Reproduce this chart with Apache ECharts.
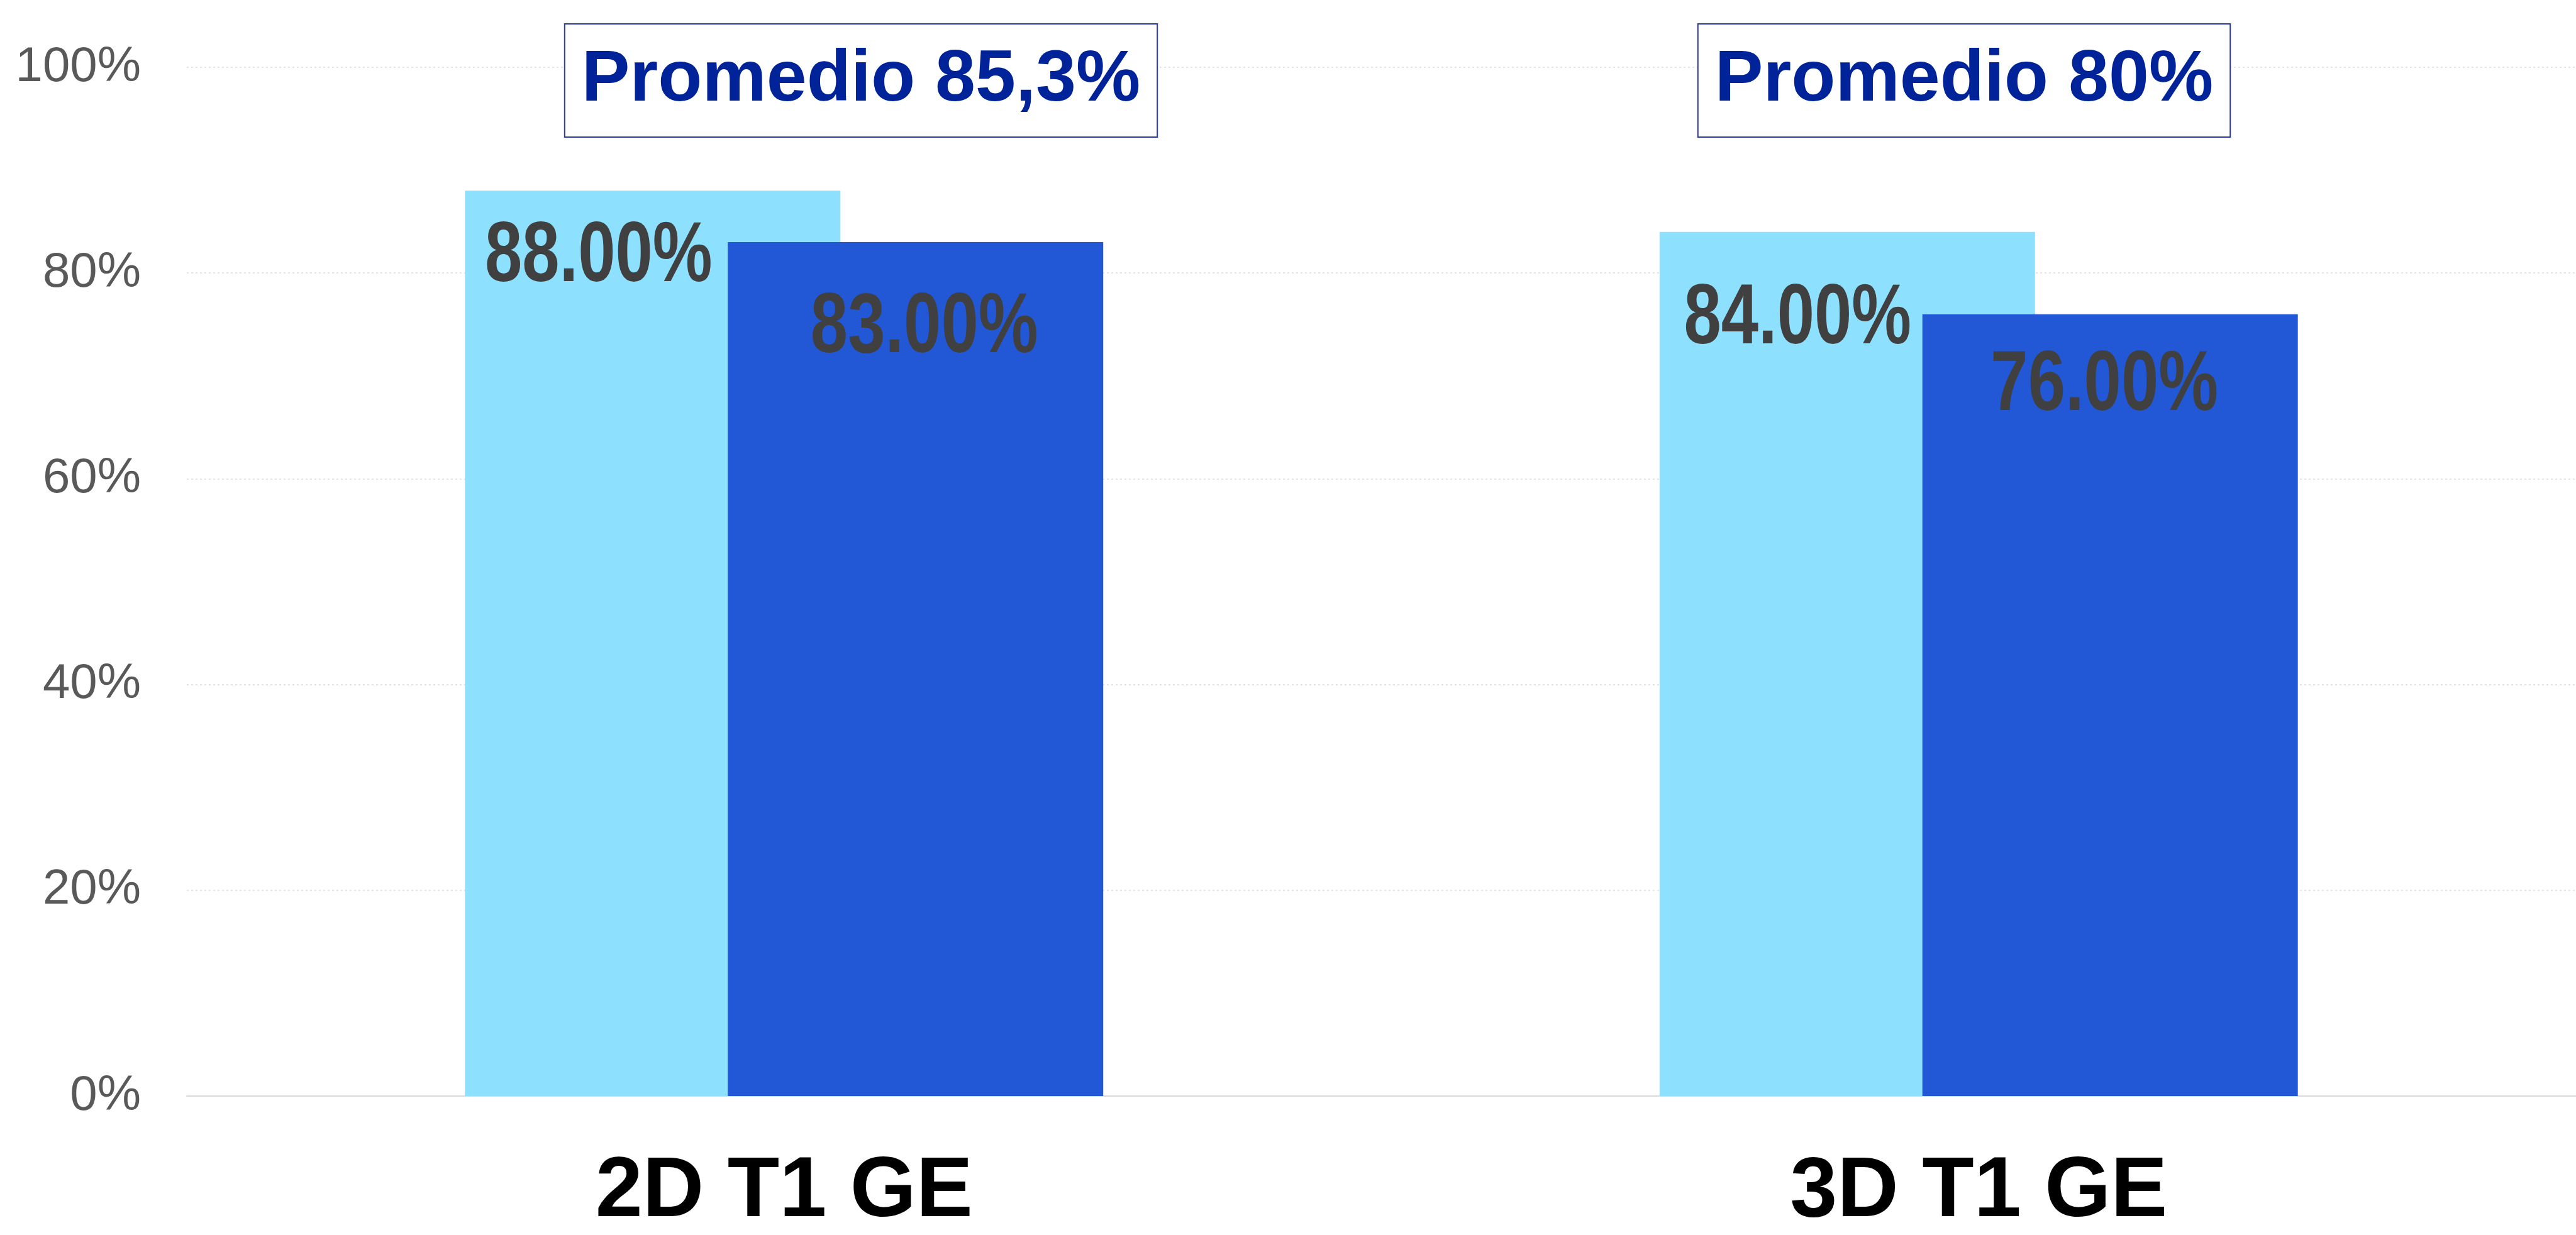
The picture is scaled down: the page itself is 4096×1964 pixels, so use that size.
<!DOCTYPE html>
<html>
<head>
<meta charset="utf-8">
<script src="https://cdn.jsdelivr.net/npm/echarts@6/dist/echarts.min.js"></script>
<style>
html,body{margin:0;padding:0;background:#fff;}
#chart{width:4096px;height:1964px;}
</style>
</head>
<body>
<div id="chart"></div>
<script>
// ---- data ----
const categories = ['2D T1 GE', '3D T1 GE'];
const seriesLightValues = [88, 84];
const seriesDarkValues = [83, 76];
const yTicks = [0, 20, 40, 60, 80, 100];
const averageTexts = ['Promedio 85,3%', 'Promedio 80%'];

// ---- styling ----
const BAR_W = 597;
const BAR_GAP = -0.30;
const GROUP_W = BAR_W * 2 + BAR_W * BAR_GAP;
const LIGHT_SHIFT = -GROUP_W / 2 + BAR_W / 2;
const DARK_SHIFT = GROUP_W / 2 - BAR_W / 2;
// label nudges relative to each bar's top-centre
const lightNudge = [[-86, 106], [-79, 140]];
const darkNudge = [[14, 138], [-9, 115]];

const chart = echarts.init(document.getElementById('chart'), null, {renderer: 'canvas'});

function labelSeries(name, values, shift, nudges) {
  return {
    name: name,
    type: 'custom',
    z: 10,
    silent: true,
    data: values.map((v, i) => [i, v]),
    renderItem: function (params, api) {
      const i = api.value(0);
      const v = api.value(1);
      const pt = api.coord([i, v]);
      const n = nudges[params.dataIndex];
      return {
        type: 'text',
        x: pt[0] + shift + n[0],
        y: pt[1] + n[1],
        scaleX: 0.79,
        style: {
          text: v.toFixed(2) + '%',
          x: 0, y: 0,
          align: 'center',
          verticalAlign: 'middle',
          fill: '#404040',
          font: 'bold 135px "Liberation Sans", Arial, sans-serif'
        }
      };
    }
  };
}

const boxStyle = (text, cx) => ({
  type: 'text',
  x: cx,
  y: 128,
  style: {
    text: text,
    align: 'center',
    verticalAlign: 'middle',
    fill: '#00239A',
    font: 'bold 115px "Liberation Sans", Arial, sans-serif',
    lineHeight: 116,
    backgroundColor: '#ffffff',
    borderColor: '#2B3B9E',
    borderWidth: 2,
    padding: [31, 26, 31, 26]
  },
  z: 100
});

const option = {
  backgroundColor: '#ffffff',
  animation: false,
  grid: {left: 297, top: 107, width: 3816, height: 1644, containLabel: false},
  xAxis: {
    type: 'category',
    data: categories,
    axisTick: {show: false},
    axisLine: {show: true, lineStyle: {color: '#d9d9d9', width: 2}},
    axisLabel: {
      color: '#000000',
      fontFamily: '"Liberation Sans", Arial, sans-serif',
      fontWeight: 'bold',
      fontSize: 135,
      margin: 86
    },
    splitLine: {show: false}
  },
  yAxis: {
    type: 'value',
    min: yTicks[0],
    max: yTicks[yTicks.length - 1],
    interval: 20,
    axisLine: {show: false},
    axisTick: {show: false},
    axisLabel: {
      color: '#595959',
      fontFamily: '"Liberation Sans", Arial, sans-serif',
      fontSize: 78,
      margin: 73,
      formatter: '{value}%'
    },
    splitLine: {show: true, lineStyle: {color: '#e4e4e4', width: 2, type: [3, 4]}}
  },
  series: [
    {
      name: 'Serie 1',
      type: 'bar',
      barWidth: BAR_W,
      barGap: (BAR_GAP * 100) + '%',
      itemStyle: {color: '#8EE1FE'},
      data: seriesLightValues,
      z: 2
    },
    {
      name: 'Serie 2',
      type: 'bar',
      barWidth: BAR_W,
      barGap: (BAR_GAP * 100) + '%',
      itemStyle: {color: '#2258D6'},
      data: seriesDarkValues,
      z: 3
    },
    labelSeries('Etiqueta 1', seriesLightValues, LIGHT_SHIFT, lightNudge),
    labelSeries('Etiqueta 2', seriesDarkValues, DARK_SHIFT, darkNudge)
  ],
  graphic: [
    boxStyle(averageTexts[0], 1369),
    boxStyle(averageTexts[1], 3123)
  ]
};

chart.setOption(option);
</script>
</body>
</html>
